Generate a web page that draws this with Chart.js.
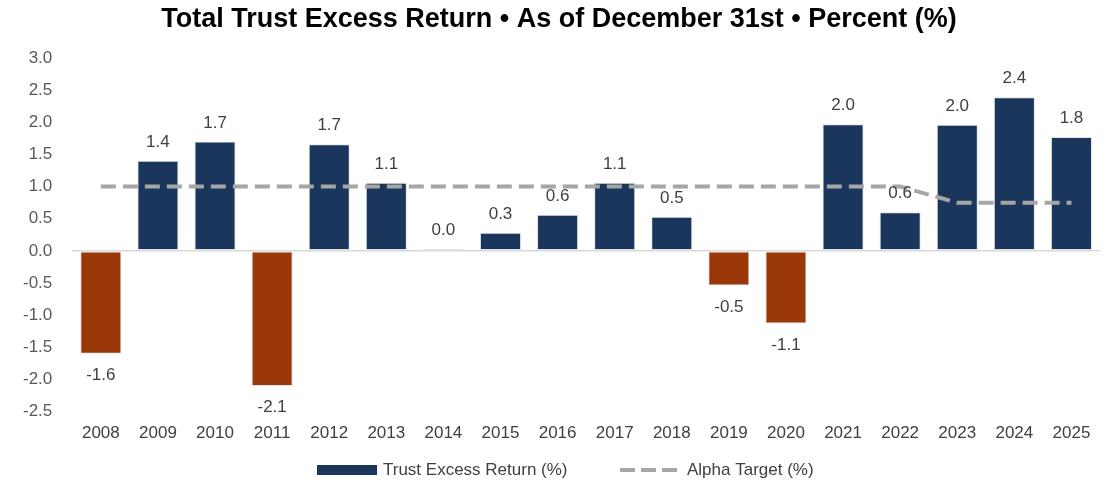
<!DOCTYPE html>
<html>
<head>
<meta charset="utf-8">
<script src="https://cdn.jsdelivr.net/npm/chart.js@4/dist/chart.umd.min.js"></script>
<style>
  html, body { margin: 0; padding: 0; background: #fff; }
  #wrap { width: 1114px; height: 482px; position: relative; }
</style>
</head>
<body>
<div id="wrap"><canvas id="chart"></canvas></div>
<script>
// data
const YEARS = ['2008', '2009', '2010', '2011', '2012', '2013', '2014', '2015', '2016',
    '2017', '2018', '2019', '2020', '2021', '2022', '2023', '2024', '2025'];
const EXCESS_RETURN = [-1.6, 1.4, 1.7, -2.1, 1.66, 1.06, 0.03, 0.28, 0.56,
    1.06, 0.53, -0.54, -1.13, 1.97, 0.6, 1.96, 2.39, 1.77];
const ALPHA_TARGET = [1, 1, 1, 1, 1, 1, 1, 1, 1, 1, 1, 1, 1, 1, 1, 0.75, 0.75, 0.75];
const Y_TICKS = [-2.5, -2.0, -1.5, -1.0, -0.5, 0.0, 0.5, 1.0, 1.5, 2.0, 2.5, 3.0];

const TITLE = 'Total Trust Excess Return • As of December 31st • Percent (%)';
const NAVY = '#1b365d';
const RUST = '#9a3709';
const GREY = '#a6a6a6';
const FONT = "'Liberation Sans', Arial, sans-serif";

// value labels above/below each bar
const barLabels = {
    id: 'barLabels',
    afterDatasetsDraw(chart) {
        const meta = chart.getDatasetMeta(0);
        const ctx = chart.ctx;
        ctx.save();
        ctx.font = '17px ' + FONT;
        ctx.fillStyle = '#404040';
        ctx.textAlign = 'center';
        ctx.textBaseline = 'alphabetic';
        meta.data.forEach((bar, i) => {
            const v = EXCESS_RETURN[i];
            const txt = v.toFixed(1);
            if (v >= 0) {
                ctx.fillText(txt, bar.x, bar.y - 14);
            } else {
                ctx.fillText(txt, bar.x, bar.y + 26);
            }
        });
        ctx.restore();
    }
};

// title + legend drawn by hand (title centred on the page, dashed legend sample)
const titleAndLegend = {
    id: 'titleAndLegend',
    afterDraw(chart) {
        const ctx = chart.ctx;
        ctx.save();
        ctx.font = 'bold 27px ' + FONT;
        ctx.fillStyle = '#000';
        ctx.textAlign = 'center';
        ctx.textBaseline = 'middle';
        ctx.fillText(TITLE, 559, 20);

        const y = 470;
        ctx.font = '17px ' + FONT;
        ctx.fillStyle = NAVY;
        ctx.fillRect(317, y - 5, 60, 10);
        ctx.fillStyle = '#404040';
        ctx.textAlign = 'left';
        ctx.fillText('Trust Excess Return (%)', 383, y);
        ctx.strokeStyle = GREY;
        ctx.lineWidth = 4;
        ctx.setLineDash([15, 6]);
        ctx.beginPath();
        ctx.moveTo(620, y);
        ctx.lineTo(678, y);
        ctx.stroke();
        ctx.setLineDash([]);
        ctx.fillText('Alpha Target (%)', 687, y);
        ctx.restore();
    }
};

new Chart(document.getElementById('chart'), {
    data: {
        labels: YEARS,
        datasets: [{
            type: 'bar',
            label: 'Trust Excess Return (%)',
            data: EXCESS_RETURN,
            backgroundColor: EXCESS_RETURN.map(v => v < 0 ? RUST : NAVY),
            borderColor: '#dfe3ea',
            borderWidth: 1,
            borderSkipped: false,
            barPercentage: 0.72,
            categoryPercentage: 1.0,
            order: 2
        }, {
            type: 'line',
            label: 'Alpha Target (%)',
            data: ALPHA_TARGET,
            borderColor: GREY,
            borderWidth: 4,
            borderDash: [15, 7],
            pointRadius: 0,
            tension: 0,
            order: 1
        }]
    },
    options: {
        responsive: true,
        maintainAspectRatio: false,
        animation: false,
        layout: { padding: { left: 3, right: 14, bottom: 34, top: 58 } },
        plugins: {
            legend: { display: false },
            tooltip: { enabled: false },
            title: { display: false }
        },
        scales: {
            x: {
                grid: { display: false },
                border: { display: false },
                ticks: { color: '#404040', font: { family: FONT, size: 17 }, padding: 4 }
            },
            y: {
                min: -2.5,
                max: 3.0,
                afterBuildTicks: axis => { axis.ticks = Y_TICKS.map(v => ({ value: v })); },
                border: { display: false },
                grid: {
                    drawTicks: false,
                    lineWidth: 1.5,
                    color: c => c.tick && c.tick.value === 0 ? '#d9d9d9' : 'rgba(0,0,0,0)'
                },
                ticks: {
                    color: '#595959',
                    font: { family: FONT, size: 17 },
                    padding: 20,
                    callback: v => Number(v).toFixed(1)
                }
            }
        }
    },
    plugins: [barLabels, titleAndLegend]
});
</script>
</body>
</html>
